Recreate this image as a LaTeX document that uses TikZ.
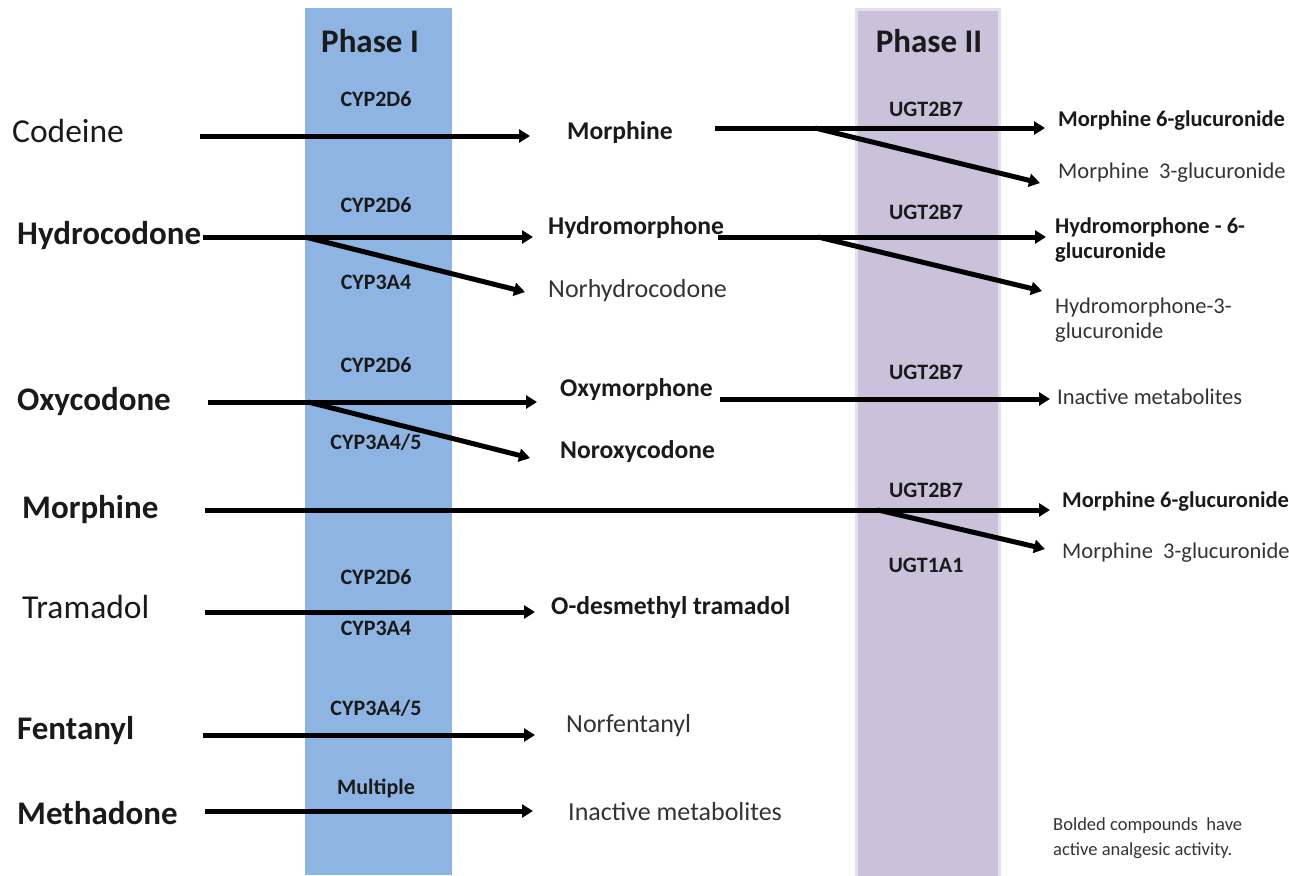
\documentclass[tikz,border=0pt]{standalone}
\usepackage{fontspec}
\setmainfont{Carlito}
\usetikzlibrary{arrows.meta}
\definecolor{pone}{HTML}{8DB4E2}
\definecolor{ptwo}{HTML}{CCC1DA}
\definecolor{ptwoedge}{HTML}{E6E0EC}
\definecolor{txt}{HTML}{1A1A1A}
\definecolor{txtl}{HTML}{333333}
\tikzset{
  drug/.style={anchor=west, inner sep=0pt, text=txt, font=\fontsize{33.5}{36}\selectfont},
  drugb/.style={drug, font=\fontsize{33}{36}\selectfont\bfseries},
  prod/.style={anchor=west, inner sep=0pt, text=txtl, font=\fontsize{26}{28}\selectfont},
  prodb/.style={prod, text=txt, font=\fontsize{25.6}{28}\selectfont\bfseries},
  rprod/.style={anchor=west, inner sep=0pt, text=txtl, align=left, font=\fontsize{22.5}{25}\selectfont},
  rprodb/.style={rprod, text=txt, font=\fontsize{22.5}{25}\selectfont\bfseries},
  enz/.style={inner sep=0pt, text=txt, font=\fontsize{22}{24}\selectfont\bfseries},
  phase/.style={inner sep=0pt, text=txt, font=\fontsize{33}{35}\selectfont\bfseries},
  arr/.style={line width=5pt, -{Triangle[length=11pt,width=13pt]}},
}
\begin{document}
\begin{tikzpicture}[x=1pt,y=-1pt]
\useasboundingbox (0,0) rectangle (1289,875);
% bands
\fill[pone] (305,8) rectangle (452,875);
\draw[ptwoedge, line width=3pt, fill=ptwo] (856.5,9.5) rectangle (999.5,878);
\node[phase] (ph1) at (370,41) {Phase I};
\node[phase] (ph2) at (929,41) {Phase II};

% Phase I enzymes
\node[enz] (e1) at (376,99) {CYP2D6};
\node[enz] (e2) at (376,205) {CYP2D6};
\node[enz] (e3) at (376,282) {CYP3A4};
\node[enz] (e4) at (376,365) {CYP2D6};
\node[enz] (e5) at (376,442) {CYP3A4/5};
\node[enz] (e6) at (376,577) {CYP2D6};
\node[enz] (e7) at (376,628) {CYP3A4};
\node[enz] (e8) at (376,708) {CYP3A4/5};
\node[enz] (e9) at (376,788) {Multiple};
% Phase II enzymes
\node[enz] (f1) at (926,109) {UGT2B7};
\node[enz] (f2) at (926,212) {UGT2B7};
\node[enz] (f3) at (926,372) {UGT2B7};
\node[enz] (f4) at (926,490) {UGT2B7};
\node[enz] (f5) at (926,565) {UGT1A1};

% drugs
\node[drug]  (codeine) at (12,131) {Codeine};
\node[drugb] (hydrocodone) at (17,236) {Hydrocodone};
\node[drugb] (oxycodone) at (17,402) {Oxycodone};
\node[drugb] (morphine) at (22,510) {Morphine};
\node[drug]  (tramadol) at (22,607) {Tramadol};
\node[drugb] (fentanyl) at (17,731) {Fentanyl};
\node[drugb] (methadone) at (17,813) {Methadone};

% phase I products
\node[prodb] (pmorph) at (567,133) {Morphine};
\node[prodb] (phydro) at (548,228) {Hydromorphone};
\node[prod]  (pnorhyd) at (548,291) {Norhydrocodone};
\node[prodb] (poxym) at (560,390) {Oxymorphone};
\node[prodb] (pnorox) at (560,452) {Noroxycodone};
\node[prodb] (pdesm) at (551,608) {O-desmethyl tramadol};
\node[prod]  (pnorf) at (566,726) {Norfentanyl};
\node[prod]  (pinact) at (568,812) {Inactive metabolites};

% phase II products
\node[rprodb] (m6a) at (1058,121) {Morphine 6-glucuronide};
\node[rprod]  (m3a) at (1058,173) {Morphine\ \ 3-glucuronide};
\node[rprodb] (h6) at (1055,240) {Hydromorphone - 6-\\glucuronide};
\node[rprod]  (h3) at (1055,320) {Hydromorphone-3-\\glucuronide};
\node[rprod]  (inact2) at (1057,397) {Inactive metabolites};
\node[rprodb] (m6b) at (1062,502) {Morphine 6-glucuronide};
\node[rprod]  (m3b) at (1062,553) {Morphine\ \ 3-glucuronide};
\node[rprod, anchor=west, font=\fontsize{18.5}{25}\selectfont] (note) at (1053,838) {Bolded compounds\ \ have\\active analgesic activity.};

% connector coordinates
\coordinate (c1s) at (200,136); \coordinate (c1e) at (530,136);
\coordinate (c2s) at (715,128); \coordinate (c2b) at (815,128);
\coordinate (c2e) at (1045,128); \coordinate (c2f) at (1040,183);
\coordinate (h1s) at (203,237); \coordinate (h1b) at (305,237);
\coordinate (h1e) at (533,237); \coordinate (h1f) at (525,292);
\coordinate (h2s) at (718,237); \coordinate (h2b) at (818,237);
\coordinate (h2e) at (1046,237); \coordinate (h2f) at (1042,291);
\coordinate (o1s) at (208,402); \coordinate (o1b) at (308,402);
\coordinate (o1e) at (537,402); \coordinate (o1f) at (530,458);
\coordinate (o2s) at (720,399); \coordinate (o2e) at (1050,399);
\coordinate (m1s) at (205,510); \coordinate (m1b) at (878,510);
\coordinate (m1e) at (1050,510); \coordinate (m1f) at (1045,549);
\coordinate (t1s) at (205,612); \coordinate (t1e) at (535,612);
\coordinate (f1s) at (203,735); \coordinate (f1e) at (535,735);
\coordinate (d1s) at (205,811); \coordinate (d1e) at (533,811);

\draw[arr] (c1s) -- (c1e);
\draw[arr] (c2s) -- (c2e);
\draw[arr] (c2b) -- (c2f);
\draw[arr] (h1s) -- (h1e);
\draw[arr] (h1b) -- (h1f);
\draw[arr] (h2s) -- (h2e);
\draw[arr] (h2b) -- (h2f);
\draw[arr] (o1s) -- (o1e);
\draw[arr] (o1b) -- (o1f);
\draw[arr] (o2s) -- (o2e);
\draw[arr] (m1s) -- (m1e);
\draw[arr] (m1b) -- (m1f);
\draw[arr] (t1s) -- (t1e);
\draw[arr] (f1s) -- (f1e);
\draw[arr] (d1s) -- (d1e);
\end{tikzpicture}
\end{document}
